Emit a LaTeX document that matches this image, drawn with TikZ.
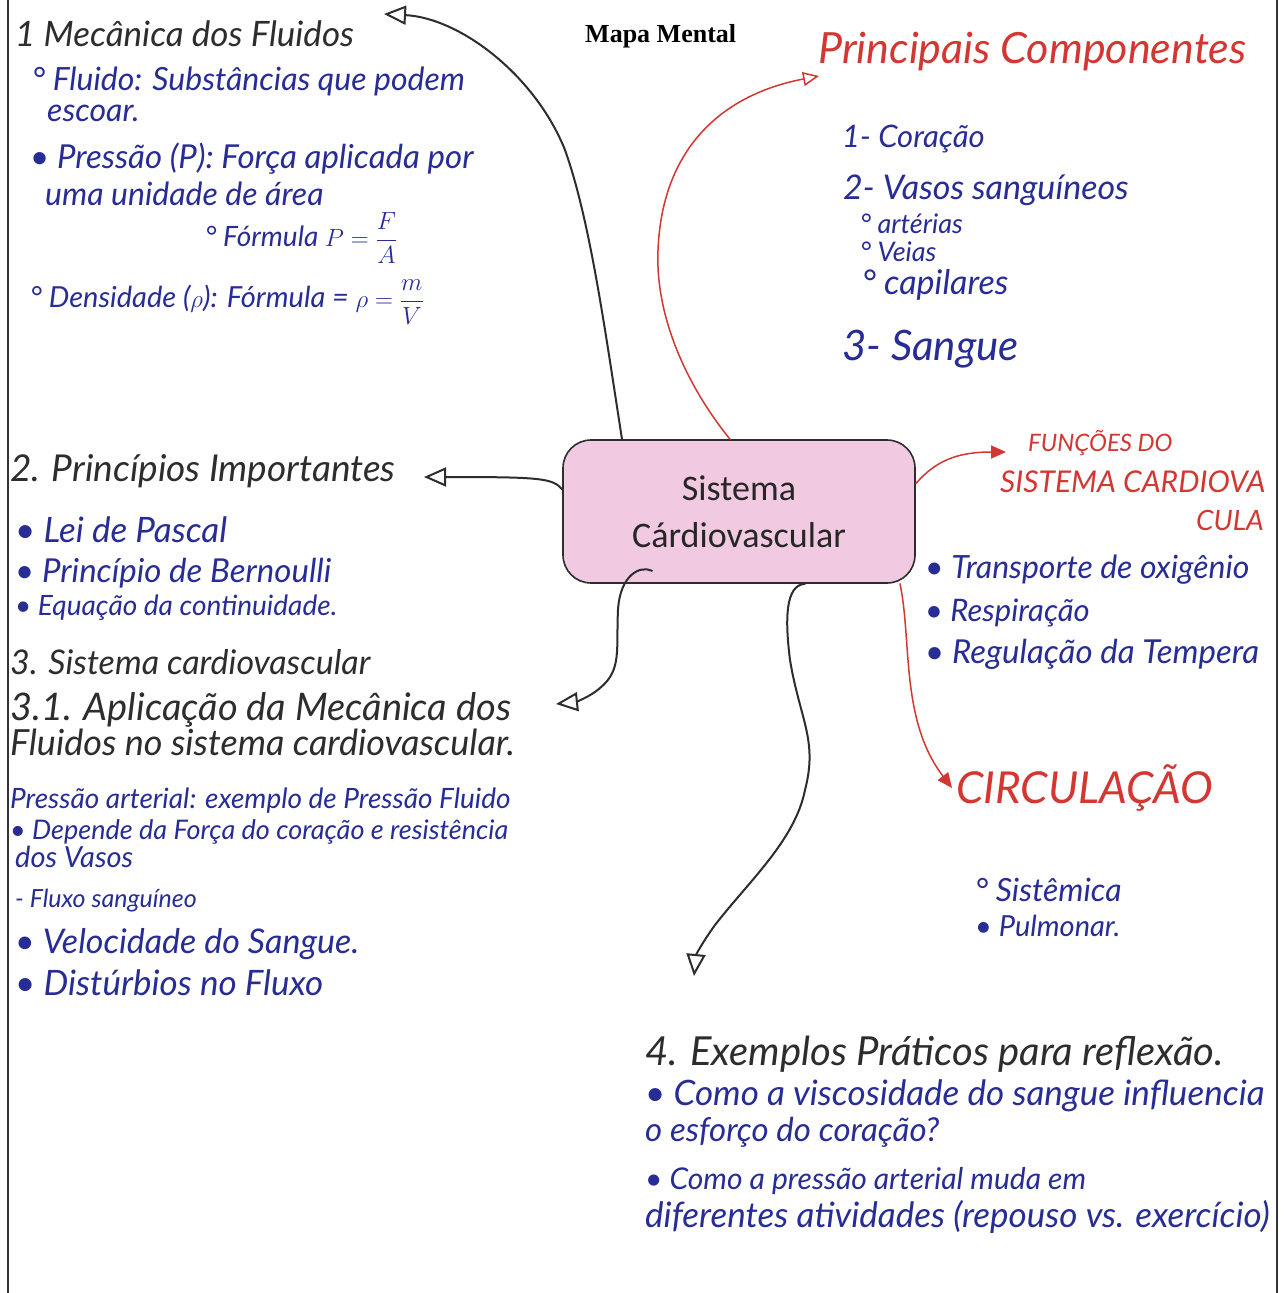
\documentclass[tikz,border=0pt]{standalone}
\usepackage{fontspec}
\setmainfont{Lato}
\newfontfamily\titlefont{Liberation Serif}
\newfontfamily\boxfont{Carlito}
\usetikzlibrary{arrows.meta}
\definecolor{ink}{RGB}{40,45,150}
\definecolor{redink}{RGB}{210,55,50}
\definecolor{pencil}{RGB}{45,45,45}
\definecolor{boxpink}{RGB}{241,202,226}
\begin{document}
\begin{tikzpicture}[x=1pt,y=-1pt,
  bk/.style={anchor=base west,inner sep=0pt,text=pencil,font=\itshape\fontsize{#1}{#1}\selectfont},
  bl/.style={anchor=base west,inner sep=0pt,text=ink,font=\itshape\fontsize{#1}{#1}\selectfont},
  rd/.style={anchor=base west,inner sep=0pt,text=redink,font=\itshape\fontsize{#1}{#1}\selectfont},
  conn/.style={draw=pencil,line width=2pt,line cap=round},
  redconn/.style={draw=redink,line width=1.5pt,line cap=round},
  openhead/.style={-{Triangle[open,length=22pt,width=19pt,line width=2pt]}},
  redopen/.style={-{Triangle[open,length=16pt,width=14pt,line width=1.5pt]}},
  redfill/.style={-{Triangle[length=15pt,width=13pt]}}]
\useasboundingbox (0,0) rectangle (1283,1293);
\fill[white] (0,0) rectangle (1283,1293);

\begin{scope}
\clip (9,0) rectangle (1276,1293);
% title
\node[anchor=base west,inner sep=0pt,font=\titlefont\bfseries\fontsize{26}{30}\selectfont] (title) at (585,42) {Mapa Mental};

% central box
\node[draw=pencil,line width=1.6pt,fill=boxpink,rounded corners=28pt,
      minimum width=352pt,minimum height=143pt,align=center,
      font=\boxfont\fontsize{36}{47}\selectfont,text=black!85] (sc) at (739,511.5) {Sistema\\Cárdiovascular};

% left top: 1
\node[bk=35] (h1) at (15,46) {1 Mecânica dos Fluidos};
\node[bl=32] (t11) at (32,90) {° Fluido: Substâncias que podem};
\node[bl=32] (t12) at (47,121) {escoar.};
\node[bl=33] (t13) at (30,168) {• Pressão (P): Força aplicada por};
\node[bl=32] (t14) at (45,205) {uma unidade de área};
\node[bl=28] (t15) at (205,246) {° Fórmula $P=\displaystyle\frac{F}{A}$};
\node[bl=29] (t16) at (30,307) {° Densidade ($\rho$): Fórmula = $\rho=\displaystyle\frac{m}{V}$};

% left: 2
\node[bk=37] (h2) at (10,481) {2. Princípios Importantes};
\node[bl=35] (t21) at (15,542) {• Lei de Pascal};
\node[bl=33] (t22) at (15,582) {• Princípio de Bernoulli};
\node[bl=28] (t23) at (15,615) {• Equação da continuidade.};

% left: 3
\node[bk=34] (h3) at (10,674) {3. Sistema cardiovascular};
\node[bk=38] (h31) at (10,720) {3.1. Aplicação da Mecânica dos};
\node[bk=36] (h32) at (10,755) {Fluidos no sistema cardiovascular.};
\node[bl=28] (t31) at (10,808) {Pressão arterial: exemplo de Pressão Fluido};
\node[bl=27] (t32) at (10,839) {• Depende da Força do coração e resistência};
\node[bl=29] (t33) at (15,867) {dos Vasos};
\node[bl=25] (t34) at (15,907) {- Fluxo sanguíneo};
\node[bl=34] (t35) at (15,953) {• Velocidade do Sangue.};
\node[bl=35] (t36) at (15,995) {• Distúrbios no Fluxo};

% right top
\node[rd=43] (h5) at (818,63) {Principais Componentes};
\node[bl=31] (t51) at (842,147) {1- Coração};
\node[bl=34] (t52) at (843,199) {2- Vasos sanguíneos};
\node[bl=27] (t53) at (860,233) {° artérias};
\node[bl=27] (t54) at (860,261) {° Veias};
\node[bl=34] (t55) at (862,294) {° capilares};
\node[bl=42] (t56) at (842,360) {3- Sangue};

% right middle
\node[rd=24] (h6) at (1028,451) {FUNÇÕES DO};
\node[rd=30] (h6b) at (1000,492) {SISTEMA CARDIOVA};
\node[rd=28] (h6c) at (1196,530) {CULA};
\node[bl=32] (t61) at (925,578) {• Transporte de oxigênio};
\node[bl=31] (t62) at (925,621) {• Respiração};
\node[bl=33] (t63) at (925,663) {• Regulação da Tempera};

% circulação
\node[rd=44] (h7) at (956,803) {CIRCULAÇÃO};
\node[bl=32] (t71) at (975,901) {° Sistêmica};
\node[bl=29] (t72) at (975,936) {• Pulmonar.};

% bottom right: 4
\node[bk=40] (h4) at (645,1065) {4. Exemplos Práticos para reflexão.};
\node[bl=35] (t41) at (645,1105) {• Como a viscosidade do sangue influencia};
\node[bl=33] (t42) at (645,1141) {o esforço do coração?};
\node[bl=30] (t43) at (645,1189) {• Como a pressão arterial muda em};
\node[bl=35] (t44) at (645,1227) {diferentes atividades (repouso vs. exercício)};

% connector end points
\coordinate (a1) at (384,14);
\coordinate (a2) at (424,477);
\coordinate (a3) at (819,76);
\coordinate (a4) at (1006,452);
\coordinate (a5) at (952,788);
\coordinate (a6) at (556,704);
\coordinate (a7) at (694,976);
\coordinate (s1) at ([xshift=-117pt]sc.north);
\coordinate (s2) at ([xshift=-9pt]sc.north);
\coordinate (s3) at ([yshift=22pt]sc.west);
\coordinate (s4) at ([yshift=28pt]sc.east);
\coordinate (s5) at ([xshift=161pt]sc.south);
\coordinate (s6) at ([xshift=-87pt,yshift=13pt]sc.south);
\coordinate (s7) at ([xshift=66pt]sc.south);

% connectors
\draw[conn,openhead] (s1) .. controls (605,330) and (590,220) .. (565,150)
      .. controls (535,75) and (460,18) .. (a1);
\draw[redconn,redopen] (s2) .. controls (690,390) and (655,320) .. (658,250)
      .. controls (662,150) and (720,95) .. (a3);
\draw[conn,openhead] (s3) .. controls (553,478) and (540,477) .. (a2);
\draw[redconn,redfill] (s4) .. controls (935,462) and (955,452) .. (a4);
\draw[redconn,redfill] (s5) .. controls (912,640) and (900,720) .. (a5);
\draw[conn,openhead] (s6) .. controls (640,565) and (620,575) .. (618,610)
      .. controls (616,650) and (622,670) .. (600,688)
      .. controls (590,697) and (575,702) .. (a6);
\draw[conn,openhead] (s7) .. controls (785,585) and (785,620) .. (790,660)
      .. controls (800,720) and (818,740) .. (805,790)
      .. controls (795,840) and (750,880) .. (715,925)
      .. controls (702,943) and (696,955) .. (a7);
\end{scope}

% page border lines
\draw[line width=2pt,draw=black!80] (8,0) -- (8,1293);
\draw[line width=2pt,draw=black!80] (1277,0) -- (1277,1293);
\end{tikzpicture}
\end{document}
